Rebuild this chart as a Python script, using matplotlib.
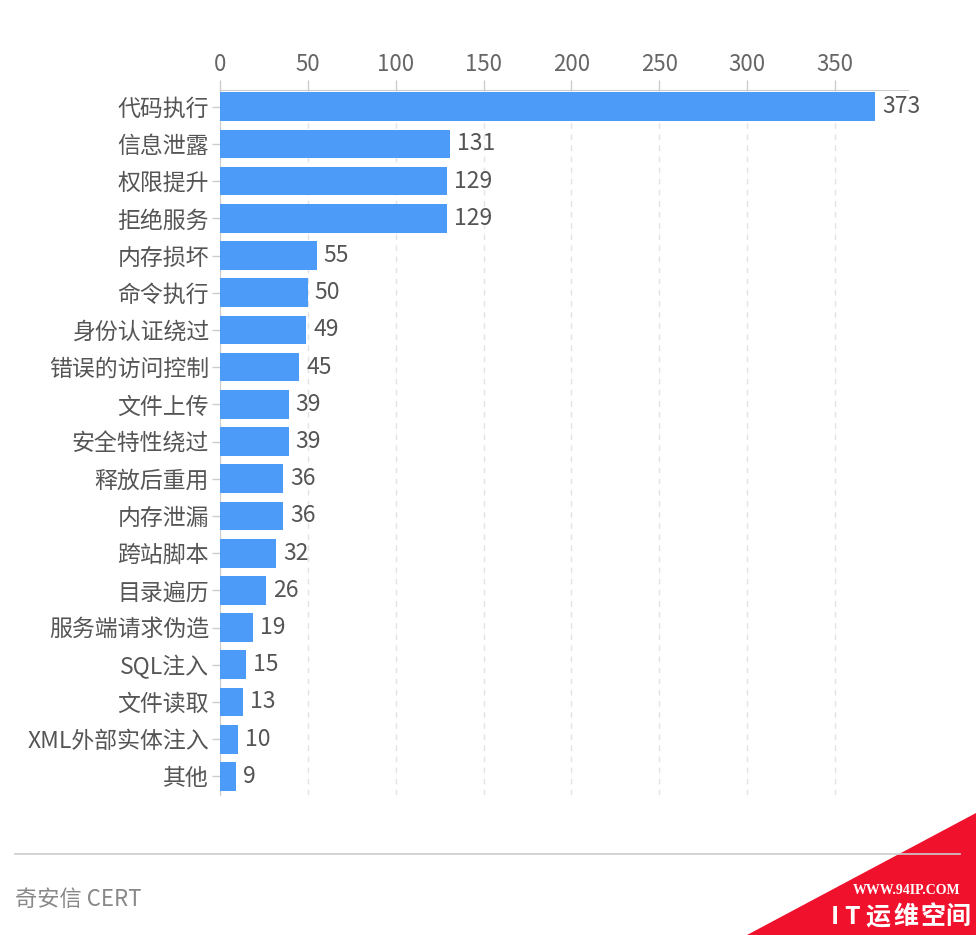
import matplotlib
matplotlib.use("Agg")
import matplotlib.pyplot as plt
from matplotlib.patches import Polygon

plt.rcParams['font.family'] = ['Noto Sans CJK SC', 'DejaVu Sans']

categories = ["代码执行", "信息泄露", "权限提升", "拒绝服务", "内存损坏", "命令执行",
              "身份认证绕过", "错误的访问控制", "文件上传", "安全特性绕过", "释放后重用",
              "内存泄漏", "跨站脚本", "目录遍历", "服务端请求伪造", "SQL注入", "文件读取",
              "XML外部实体注入", "其他"]
values = [373, 131, 129, 129, 55, 50, 49, 45, 39, 39, 36, 36, 32, 26, 19, 15, 13, 10, 9]
xticks = [0, 50, 100, 150, 200, 250, 300, 350]
footer = "奇安信 CERT"

W, H = 976, 935
fig = plt.figure(figsize=(W / 100, H / 100), dpi=100)
ax = fig.add_axes([220 / W, 1 - 795 / H, (908 - 220) / W, (795 - 90) / H])

ypos = list(range(len(categories)))
ax.barh(ypos, values, height=0.77, color='#4d9bf9', zorder=3)
ax.set_ylim(len(categories) - 0.5, -0.45)
ax.set_xlim(0, 391.6)
ax.set_yticks(ypos)
ax.set_yticklabels(categories)
ax.set_xticks(xticks)
ax.set_xticklabels([str(t) for t in xticks])
ax.xaxis.tick_top()
ax.tick_params(axis='x', colors='#cccccc', labelcolor='#666666', labelsize=16,
               length=7, width=1, pad=3)
ax.tick_params(axis='y', colors='#cccccc', labelcolor='#555555', labelsize=16.5,
               length=6, width=1, pad=2)
for sp in ['right', 'bottom']:
    ax.spines[sp].set_visible(False)
ax.spines['top'].set_color('#cccccc')
ax.spines['left'].set_color('#cccccc')
ax.grid(axis='x', linestyle=(0, (4, 4)), color='#e3e3e3', linewidth=1, zorder=0)
ax.set_axisbelow(True)

for y, v in zip(ypos, values):
    ax.annotate(str(v), xy=(v, y), xytext=(5, 0), textcoords='offset points',
                va='center', ha='left', fontsize=16.5, color='#555555')

# footer separator and source text
fig.add_artist(plt.Line2D([15 / W, 960 / W], [1 - 854 / H, 1 - 854 / H],
                          color='#cccccc', linewidth=1.2))
fig.text(15 / W, 1 - 899 / H, footer, fontsize=16, color='#888888', va='center', ha='left')

# watermark
tri = Polygon([[747 / W, 0], [1, 1 - 813 / H], [1, 0]], closed=True,
              transform=fig.transFigure, facecolor='#f0122d', edgecolor='none')
fig.add_artist(tri)
fig.text(907 / W, 1 - 890 / H, "WWW.94IP.COM", fontsize=10, color='white',
         fontweight='bold', family=['Liberation Serif', 'DejaVu Serif'], ha='center', va='center')
wm_chars = ["I", "T", "运", "维", "空", "间"]
wm_x = [835, 852, 878, 906, 933, 958]
for c, x in zip(wm_chars, wm_x):
    fig.text(x / W, 1 - 917 / H, c, fontsize=18, color='white',
             fontweight='bold', ha='center', va='center')

fig.savefig("out.png", dpi=100, facecolor='white')
